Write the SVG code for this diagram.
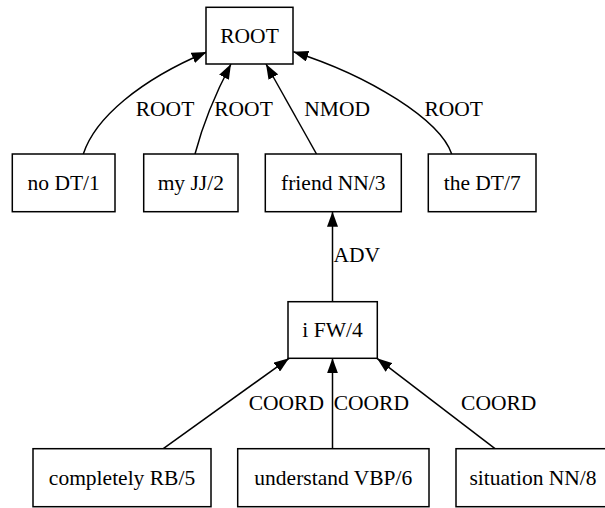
<svg xmlns="http://www.w3.org/2000/svg" width="605" height="508" viewBox="0 0 605 508">
<style>
.n rect{fill:#fff;stroke:#000;stroke-width:1.5}
text{font-family:"Liberation Serif","Times New Roman",serif;font-size:21.5px;fill:#000;text-anchor:middle}
.e path{fill:none;stroke:#000;stroke-width:1.5}
</style>
<defs>
<marker id="ah" viewBox="0 0 15 11" refX="15" refY="5.5" markerWidth="15" markerHeight="11" markerUnits="userSpaceOnUse" orient="auto">
<path d="M0,0 L15,5.5 L0,11 Z" fill="#000"/>
</marker>
</defs>
<rect width="605" height="508" fill="#fff"/>
<g id="edges" class="e">
<path d="M83.3,154 C95,118 140,80 206.7,52" marker-end="url(#ah)"/>
<path d="M195,154 C200,135 212,100 231,64" marker-end="url(#ah)"/>
<path d="M316.5,154 L266,64" marker-end="url(#ah)"/>
<path d="M451.7,154 C440,120 370,76 293.3,51.7" marker-end="url(#ah)"/>
<path d="M332.5,301.7 L332.5,211.7" marker-end="url(#ah)"/>
<path d="M163.3,448.7 L289,358.3" marker-end="url(#ah)"/>
<path d="M332.5,448.7 L332.5,358.3" marker-end="url(#ah)"/>
<path d="M495,448.7 L377,358.3" marker-end="url(#ah)"/>
<text x="165" y="116">ROOT</text>
<text x="243.5" y="116">ROOT</text>
<text x="337.2" y="116">NMOD</text>
<text x="453.7" y="116">ROOT</text>
<text x="356.7" y="262.3">ADV</text>
<text x="286.3" y="410">COORD</text>
<text x="371.3" y="410">COORD</text>
<text x="498.7" y="410">COORD</text>
</g>
<g id="root" class="n"><rect x="206" y="7.3" width="87" height="56.7"/><text x="249.5" y="42.7">ROOT</text></g>
<g id="n1" class="n"><rect x="12.3" y="154" width="102.7" height="57.7"/><text x="63.7" y="190">no DT/1</text></g>
<g id="n2" class="n"><rect x="143.7" y="154" width="94.3" height="57.7"/><text x="190.8" y="190">my JJ/2</text></g>
<g id="n3" class="n"><rect x="265.3" y="154" width="136" height="57.7"/><text x="333.3" y="190">friend NN/3</text></g>
<g id="n7" class="n"><rect x="428.3" y="154" width="107.7" height="57.7"/><text x="482.2" y="190">the DT/7</text></g>
<g id="n4" class="n"><rect x="288" y="301.7" width="89.3" height="56.6"/><text x="332.5" y="337">i FW/4</text></g>
<g id="n5" class="n"><rect x="33" y="448.7" width="178" height="58"/><text x="122" y="484.7">completely RB/5</text></g>
<g id="n6" class="n"><rect x="237.7" y="448.7" width="191.3" height="58"/><text x="333.3" y="484.7">understand VBP/6</text></g>
<g id="n8" class="n"><rect x="456" y="448.7" width="154" height="58"/><text x="533" y="484.7">situation NN/8</text></g>
</svg>
